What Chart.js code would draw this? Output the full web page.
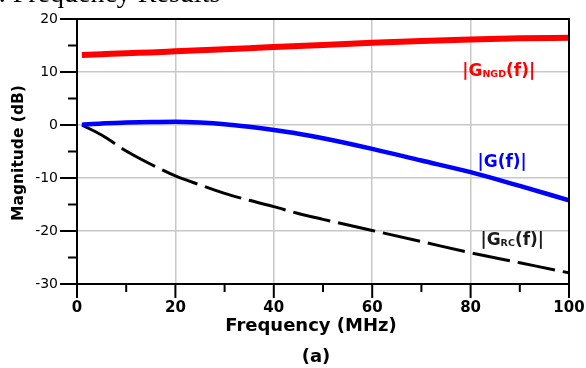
<!DOCTYPE html>
<html>
<head>
<meta charset="utf-8">
<script src="https://cdn.jsdelivr.net/npm/chart.js@4/dist/chart.umd.min.js"></script>
<style>
  html, body { margin: 0; padding: 0; background: #fff; }
  #wrap { position: relative; width: 586px; height: 368px; overflow: hidden; }
  canvas { display: block; }
</style>
</head>
<body>
<div id="wrap"><canvas id="freqChart" width="586" height="368"></canvas></div>
<script>
/* ---- data ---- */
const freqMHz = [1, 5, 10, 15, 20, 25, 30, 35, 40, 45, 50, 60, 70, 80, 90, 100];
const gNgd    = [13.2, 13.35, 13.55, 13.7, 13.9, 14.1, 14.3, 14.5, 14.7, 14.9, 15.1, 15.5, 15.85, 16.15, 16.35, 16.45];
const gTotal  = [0.05, 0.3, 0.45, 0.55, 0.6, 0.45, 0.15, -0.35, -0.95, -1.65, -2.5, -4.5, -6.7, -8.9, -11.5, -14.2];
const gRc     = [0, -1.9, -4.9, -7.4, -9.6, -11.3, -12.9, -14.2, -15.4, -16.7, -17.8, -19.9, -22.0, -24.1, -26.0, -27.9];

const xTicks = [0, 20, 40, 60, 80, 100];
const yTicks = [-30, -20, -10, 0, 10, 20];

const FONT = "'DejaVu Sans', Verdana, sans-serif";

function toPoints(ys) {
  return freqMHz.map((f, i) => ({ x: f, y: ys[i] }));
}

/* ticks, frame, titles and curve labels */
const decorPlugin = {
  id: "decor",
  afterDatasetsDraw(chart) {
    const ctx = chart.ctx;
    const a = chart.chartArea;
    const xs = chart.scales.x, ys = chart.scales.y;
    ctx.save();

    // top + right frame
    ctx.strokeStyle = "#000";
    ctx.lineWidth = 2;
    ctx.beginPath();
    ctx.moveTo(a.left, a.top);
    ctx.lineTo(a.right, a.top);
    ctx.lineTo(a.right, a.bottom);
    ctx.stroke();

    // outward tick marks
    for (let v = -30; v <= 20; v += 5) {
      const py = ys.getPixelForValue(v);
      const len = yTicks.includes(v) ? 17 : 9;
      ctx.beginPath();
      ctx.moveTo(a.left - len, py);
      ctx.lineTo(a.left, py);
      ctx.stroke();
    }
    for (let v = 0; v <= 100; v += 10) {
      const px = xs.getPixelForValue(v);
      const len = xTicks.includes(v) ? 14 : 8;
      ctx.beginPath();
      ctx.moveTo(px, a.bottom);
      ctx.lineTo(px, a.bottom + len);
      ctx.stroke();
    }

    // curve labels
    drawLabel(ctx, xs.getPixelForValue(78.3), ys.getPixelForValue(9.25), "NGD", "#ff0000");
    drawLabel(ctx, xs.getPixelForValue(81.4), ys.getPixelForValue(-7.9), "", "#0000ff");
    drawLabel(ctx, xs.getPixelForValue(82.0), ys.getPixelForValue(-22.6), "RC", "#1a1a1a");

    // axis titles
    ctx.fillStyle = "#000";
    ctx.textAlign = "center";
    ctx.textBaseline = "middle";
    ctx.font = "bold 18px " + FONT;
    ctx.fillText("Frequency (MHz)", 311, 326);
    ctx.fillText("(a)", 316, 357);

    ctx.save();
    ctx.translate(19, 153);
    ctx.rotate(-Math.PI / 2);
    ctx.font = "bold 15.5px " + FONT;
    ctx.fillText("Magnitude (dB)", 0, 0);
    ctx.restore();

    // clipped caption from the page above
    ctx.font = "28px 'Liberation Serif', 'Times New Roman', serif";
    ctx.textAlign = "left";
    ctx.textBaseline = "alphabetic";
    ctx.fillText("C. Frequency Results", -20, 2);

    ctx.restore();
  }
};

function drawLabel(ctx, x, y, sub, color) {
  ctx.fillStyle = color;
  ctx.textAlign = "left";
  ctx.textBaseline = "alphabetic";
  ctx.font = "bold 17px " + FONT;
  ctx.fillText("|G", x, y);
  let cx = x + ctx.measureText("|G").width;
  if (sub) {
    ctx.font = "bold 9.5px " + FONT;
    ctx.fillText(sub, cx, y + 1.5);
    cx += ctx.measureText(sub).width;
    ctx.font = "bold 17px " + FONT;
  }
  ctx.fillText("(f)|", cx, y);
}

const gridColor = (keep) => (c) =>
  c.tick && keep(c.tick.value) ? "#c8c8c8" : "rgba(0,0,0,0)";

new Chart(document.getElementById("freqChart"), {
  type: "line",
  data: {
    datasets: [
      {
        label: "|G_NGD(f)|",
        data: toPoints(gNgd),
        borderColor: "#ff0000",
        borderWidth: 6,
        pointRadius: 0,
        cubicInterpolationMode: "monotone"
      },
      {
        label: "|G(f)|",
        data: toPoints(gTotal),
        borderColor: "#0000ff",
        borderWidth: 4.5,
        pointRadius: 0,
        cubicInterpolationMode: "monotone"
      },
      {
        label: "|G_RC(f)|",
        data: toPoints(gRc),
        borderColor: "#000000",
        borderWidth: 3,
        borderDash: [38, 8],
        pointRadius: 0,
        cubicInterpolationMode: "monotone"
      }
    ]
  },
  options: {
    responsive: false,
    animation: false,
    devicePixelRatio: 1,
    layout: { padding: { top: 19, right: 17, left: 0, bottom: 0 } },
    plugins: {
      legend: { display: false },
      tooltip: { enabled: false }
    },
    scales: {
      x: {
        type: "linear",
        min: 0,
        max: 100,
        afterFit: s => { s.height = 84; },
        ticks: {
          stepSize: 10,
          autoSkip: false,
          maxRotation: 0,
          padding: 1,
          color: "#000",
          font: { family: FONT, size: 15, weight: "bold" },
          callback: v => (xTicks.includes(v) ? String(v) : "")
        },
        grid: {
          color: gridColor(v => v % 20 === 0 && v > 0 && v < 100),
          lineWidth: 1.5,
          tickLength: 14,
          tickColor: "rgba(0,0,0,0)"
        },
        border: { color: "#000", width: 2 }
      },
      y: {
        min: -30,
        max: 20,
        afterFit: s => { s.width = 77; },
        ticks: {
          stepSize: 5,
          autoSkip: false,
          padding: 2,
          color: "#000",
          font: { family: FONT, size: 14 },
          callback: v => (yTicks.includes(v) ? String(v) : "")
        },
        grid: {
          color: gridColor(v => v % 10 === 0 && v > -30 && v < 20),
          lineWidth: 1.5,
          tickLength: 17,
          tickColor: "rgba(0,0,0,0)"
        },
        border: { color: "#000", width: 2 }
      }
    }
  },
  plugins: [decorPlugin]
});
</script>
</body>
</html>
